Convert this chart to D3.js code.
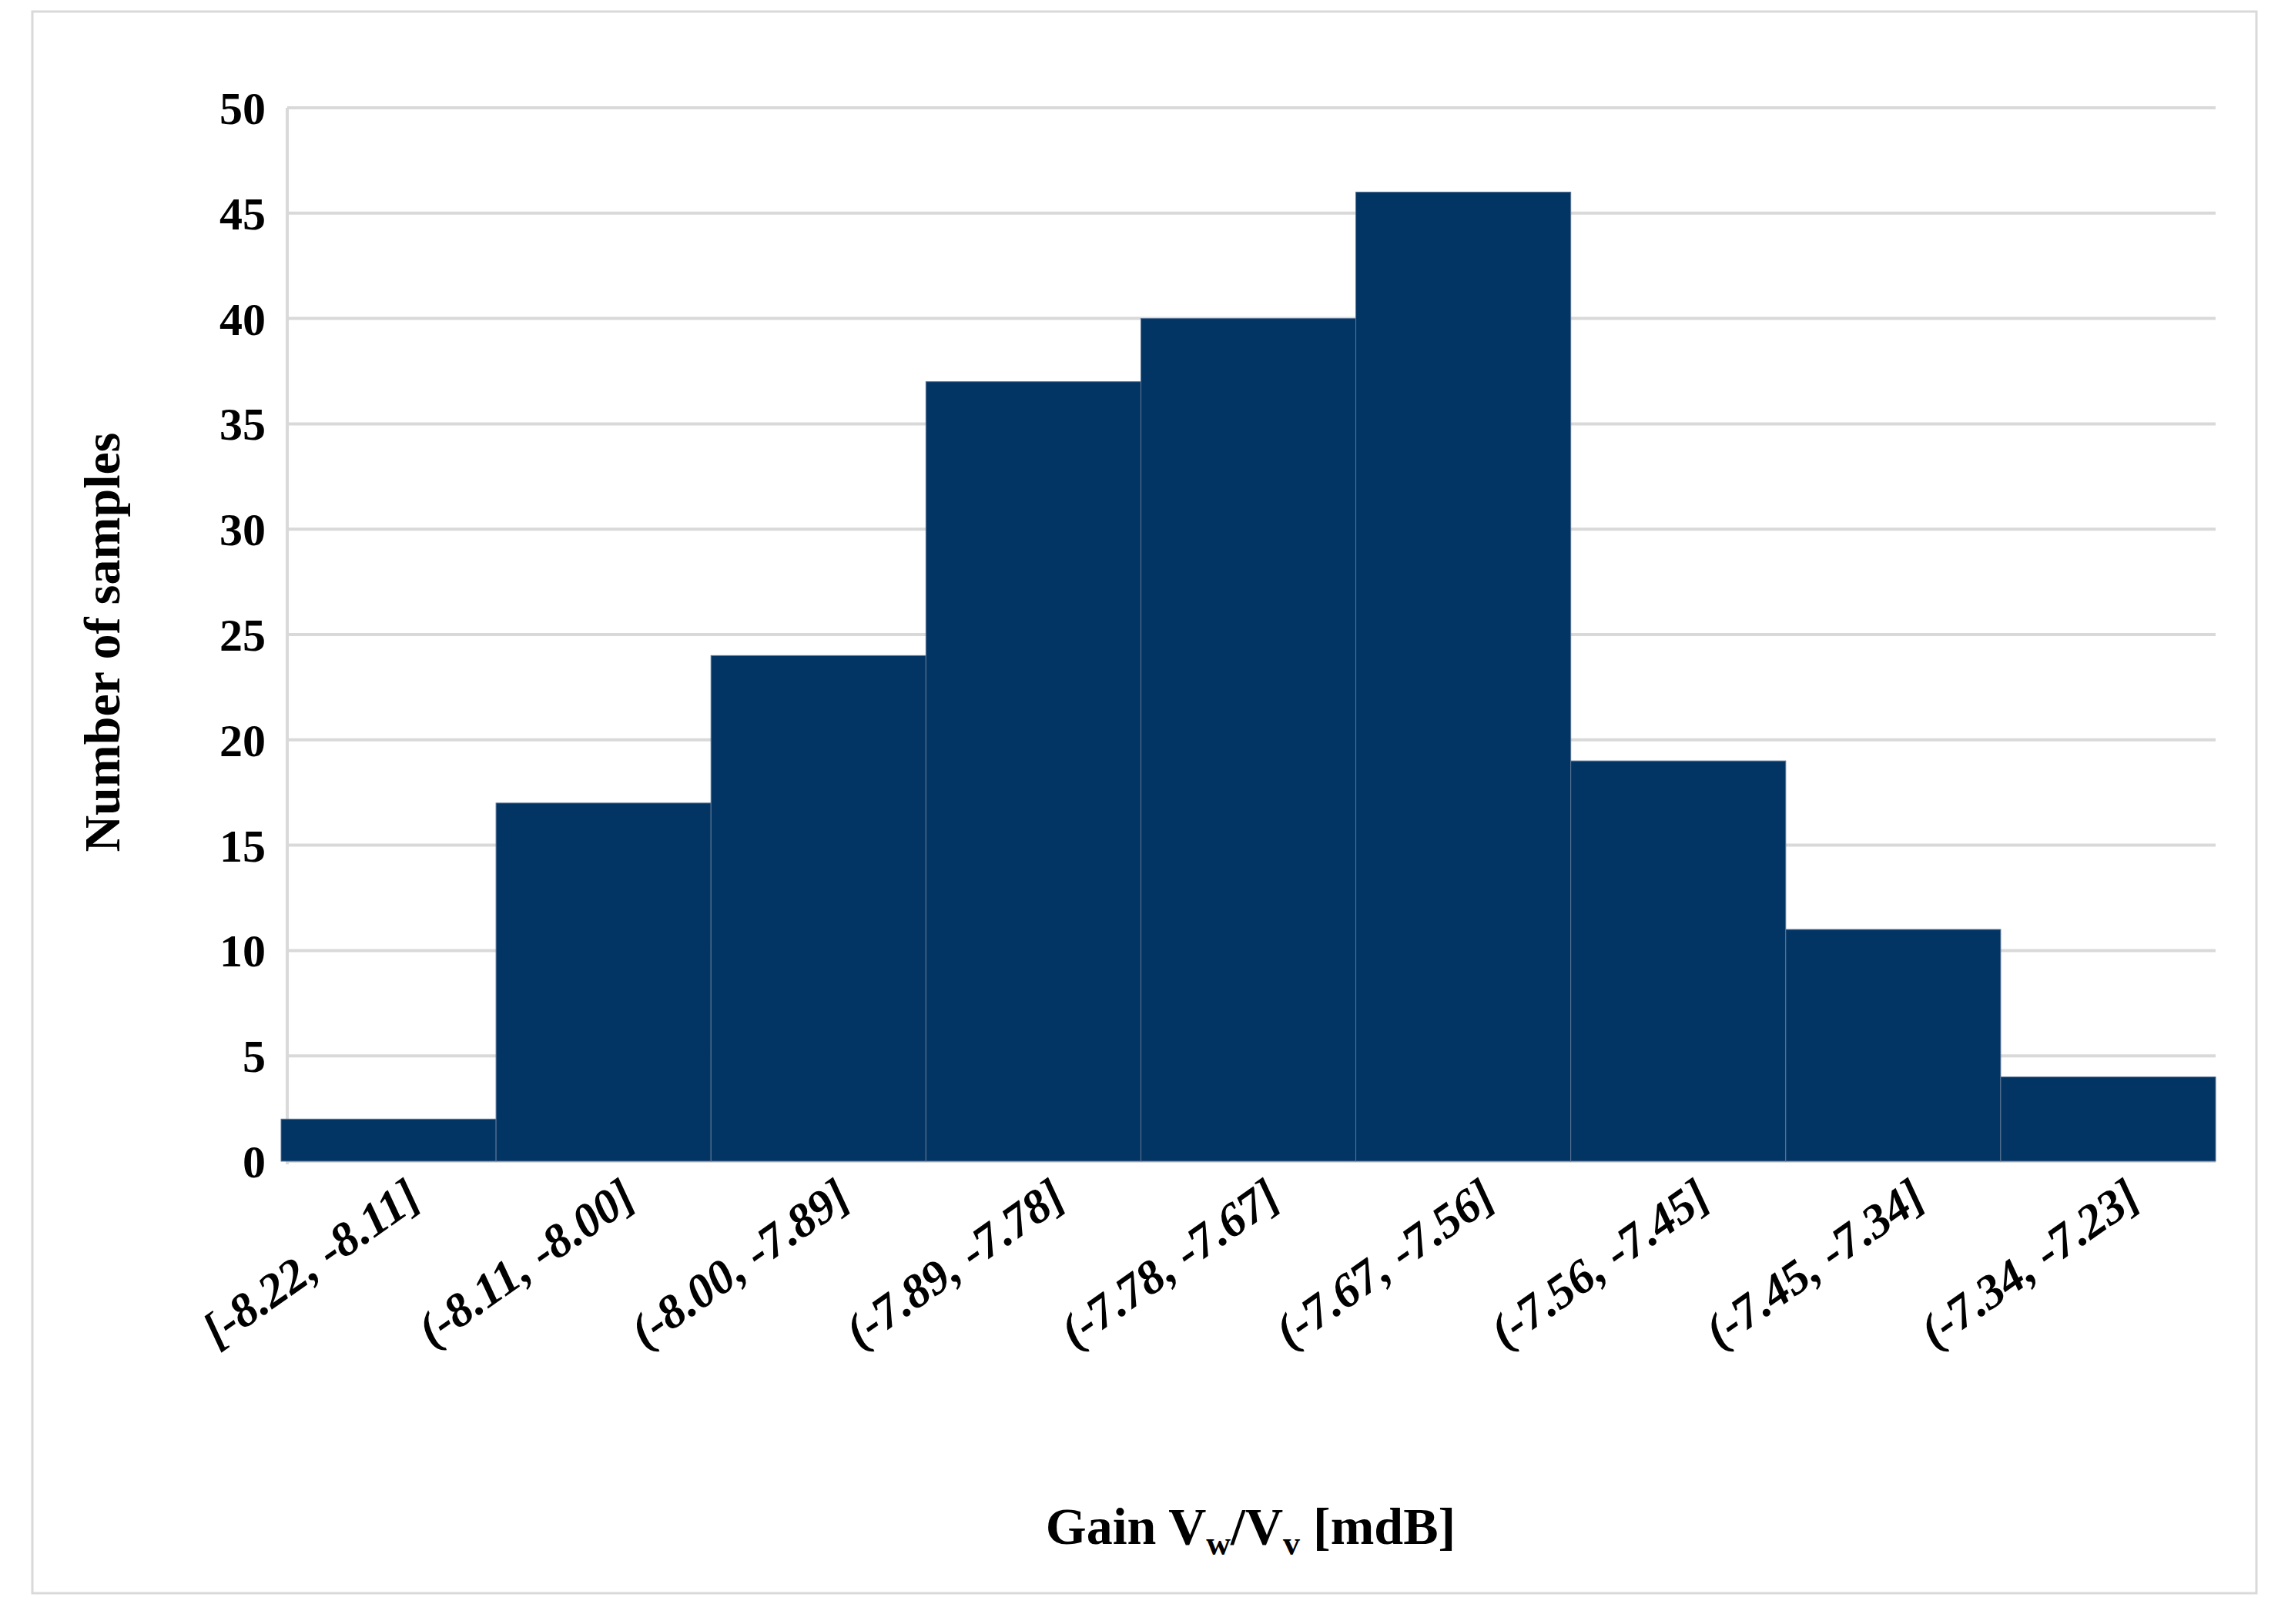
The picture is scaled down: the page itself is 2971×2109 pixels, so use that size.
<!DOCTYPE html>
<html>
<head>
<meta charset="utf-8">
<script src="https://cdn.jsdelivr.net/npm/d3@7"></script>
<style>
  body { margin: 0; background: #fff; }
  text { font-family: "Liberation Serif", "Times New Roman", serif; font-weight: bold; }
</style>
</head>
<body>
<div id="chart"></div>
<script>
const bins = ["[-8.22, -8.11]", "(-8.11, -8.00]", "(-8.00, -7.89]", "(-7.89, -7.78]", "(-7.78, -7.67]",
  "(-7.67, -7.56]", "(-7.56, -7.45]", "(-7.45, -7.34]", "(-7.34, -7.23]"]
const counts = [2, 17, 24, 37, 40, 46, 19, 11, 4]
const yTicks = [0, 5, 10, 15, 20, 25, 30, 35, 40, 45, 50]

const params = { width: 2971, height: 2109, left: 373, right: 2877, top: 140, bottom: 1508 }

const svg = d3.select('#chart').append('svg')
  .attr('width', params.width).attr('height', params.height)

svg.append('rect')
  .attr('x', 42).attr('y', 15).attr('width', 2888).attr('height', 2054)
  .attr('fill', 'none').attr('stroke', '#d9d9d9').attr('stroke-width', 3)

const x = d3.scaleBand().domain(bins).range([params.left - 8, params.right]).padding(0)
const y = d3.scaleLinear().domain([0, 50]).range([params.bottom, params.top])

// gridlines
svg.append('g').selectAll('line').data(yTicks).enter().append('line')
  .attr('x1', params.left).attr('x2', params.right)
  .attr('y1', d => y(d)).attr('y2', d => y(d))
  .attr('stroke', '#d9d9d9').attr('stroke-width', 4)
svg.append('line')
  .attr('x1', params.left).attr('x2', params.left)
  .attr('y1', params.top).attr('y2', params.bottom + 4)
  .attr('stroke', '#d9d9d9').attr('stroke-width', 4)

// bars
svg.append('g').selectAll('rect').data(counts).enter().append('rect')
  .attr('x', (d, i) => x(bins[i]))
  .attr('width', x.bandwidth())
  .attr('y', d => y(d))
  .attr('height', d => y(0) - y(d))
  .attr('fill', '#033564')
  .attr('stroke', '#5a7595').attr('stroke-width', 1)

// y ticks
svg.append('g').selectAll('text').data(yTicks).enter().append('text')
  .attr('x', params.left - 28).attr('y', d => y(d)).attr('dy', '0.35em')
  .attr('text-anchor', 'end').attr('font-size', 60).text(d => d)

// x labels
svg.append('g').selectAll('text').data(bins).enter().append('text')
  .attr('transform', d => `translate(${x(d) + x.bandwidth() / 2 + 45},${params.bottom + 55}) rotate(-35)`)
  .attr('text-anchor', 'end').attr('font-size', 62).attr('font-style', 'italic').text(d => d)

// axis titles
svg.append('text')
  .attr('transform', `translate(155,${(params.top + params.bottom) / 2 + 10}) rotate(-90)`)
  .attr('text-anchor', 'middle').attr('font-size', 66).text('Number of samples')

const xt = svg.append('text').attr('x', 1624).attr('y', 2005)
  .attr('text-anchor', 'middle').attr('font-size', 68)
xt.append('tspan').text('Gain V')
xt.append('tspan').attr('font-size', 44).attr('dy', 14).text('w')
xt.append('tspan').attr('dy', -14).text('/V')
xt.append('tspan').attr('font-size', 44).attr('dy', 14).text('v')
xt.append('tspan').attr('dy', -14).text(' [mdB]')
</script>
</body>
</html>
